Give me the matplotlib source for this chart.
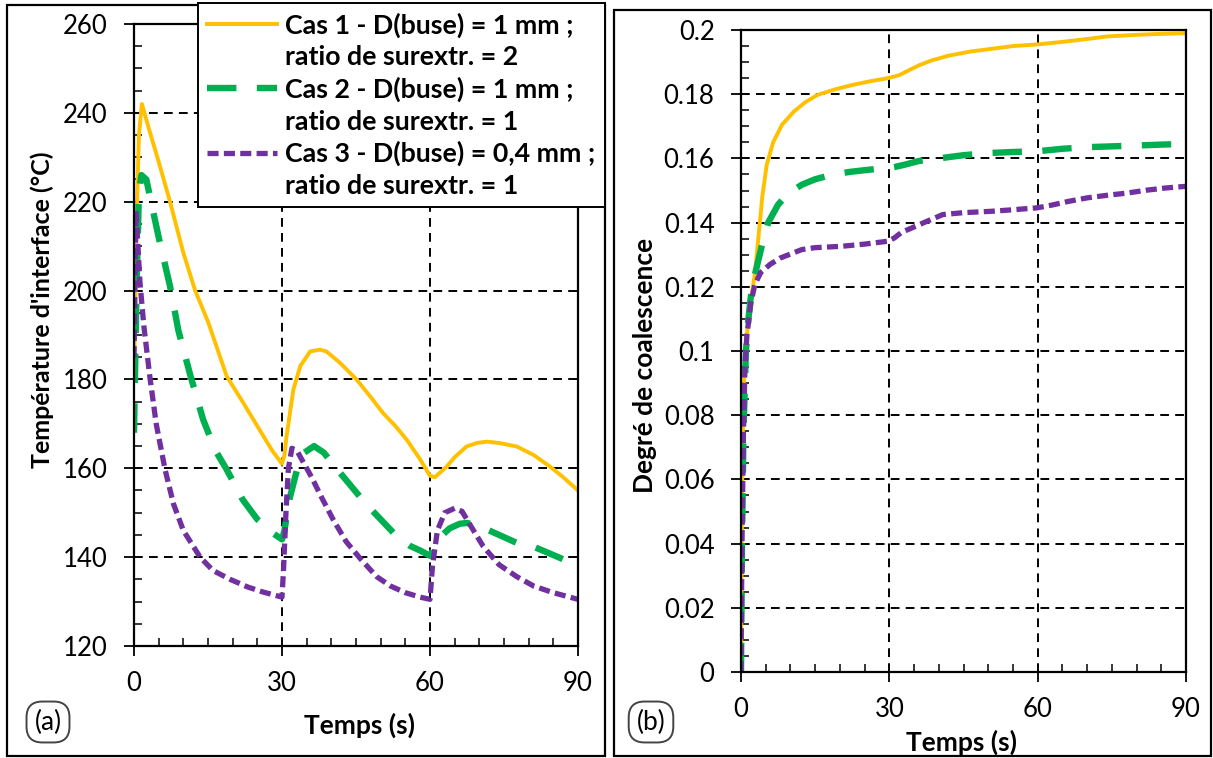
import matplotlib
matplotlib.use("Agg")
import matplotlib.pyplot as plt
from matplotlib.lines import Line2D
from matplotlib.patches import Rectangle
from matplotlib.ticker import MultipleLocator

plt.rcParams['font.family'] = ['Lato', 'DejaVu Sans']

# --- (a) interface temperature vs time ---
t1_a = [0, 0.5, 1, 1.6, 3, 5, 7.3, 10, 12.4, 15, 18.8, 22, 25, 28, 30, 30.5, 30.9, 32.3, 33.7, 35.7,
        37.7, 39, 41.8, 45.1, 48, 50.5, 53, 55.3, 58, 60, 61, 63.4, 65, 67.4, 69.5, 71.5, 74, 77.6,
        81, 84.3, 87, 90]
T1_a = [180, 215, 235, 242, 236.5, 229, 220, 208.5, 200, 193, 180.7, 175, 169.5, 164, 161, 163, 167,
        177.7, 183, 186.3, 186.7, 186.3, 183.7, 180, 176, 172.4, 169.5, 166.4, 162, 158.3, 158, 160.4,
        162.5, 164.9, 165.7, 166, 165.7, 164.9, 163, 160.4, 158, 155]

t2_a = [0, 0.5, 1, 1.5, 2.5, 5, 7.3, 9, 11.4, 14, 16.5, 18.8, 22, 25, 28, 30, 30.5, 31.5, 33, 34.5,
        36.5, 38.5, 41, 44, 47, 50, 53, 56, 58, 60, 60.8, 62, 64, 66, 67.5, 70, 74, 78, 80.9, 86, 90]
T2_a = [168, 200, 222, 226, 225, 212, 201, 191, 181, 171, 164, 159.7, 153, 148.5, 145.5, 144, 146,
        153, 159.5, 163.5, 165, 163.5, 160, 156, 152, 148.5, 145, 142.5, 141.5, 140.3, 142, 144.5,
        146.5, 147.5, 147.7, 147, 145, 143, 142.4, 140, 138]

t3_a = [0, 0.4, 1.2, 2, 3.2, 4.5, 6.3, 8, 10, 13.4, 16, 19.5, 23, 26, 29, 30, 30.3, 30.8, 31.3, 32,
        33, 34, 36, 38, 40.4, 43, 46, 49.2, 52, 55, 58, 60, 60.5, 61.5, 63, 65, 66.5, 68, 70.8, 74,
        77.6, 81, 85, 90]
T3_a = [185, 218, 202, 192, 180.7, 170, 159.7, 152, 146, 140, 137, 135, 133.3, 132.2, 131.3, 131,
        137, 150, 160, 164.5, 164, 162, 158, 153.5, 148.4, 143.5, 139.5, 135.6, 133.5, 132, 131,
        130.5, 138, 146, 150, 151, 150.3, 147.5, 142.4, 138.3, 135.6, 133.5, 132, 130.5]

# --- (b) degree of coalescence vs time ---
t1_b = [0, 0.1, 0.3, 0.6, 1, 1.5, 2, 2.8, 3.5, 4.3, 5.2, 6.5, 8.3, 10.7, 13, 15.5, 19, 22.6, 26,
        29.7, 31, 32.1, 34, 36, 38.5, 42, 46.4, 50, 55, 59.9, 65, 70, 74.1, 80, 85, 90]
v1_b = [0, 0.03, 0.07, 0.09, 0.102, 0.11, 0.116, 0.124, 0.135, 0.148, 0.158, 0.165, 0.1705, 0.1746,
        0.1775, 0.1798, 0.1815, 0.1829, 0.184, 0.185, 0.1855, 0.186, 0.1875, 0.189, 0.1905, 0.192,
        0.1933, 0.194, 0.195, 0.1955, 0.1963, 0.1972, 0.198, 0.1985, 0.1988, 0.199]

t2_b = [0, 0.2, 0.5, 1, 1.5, 2.2, 3, 4.4, 5.5, 7.5, 9.5, 12.3, 15, 18.6, 22, 26, 29.7, 31, 33, 36,
        40, 45, 50.4, 55, 59.8, 65, 70, 74, 80, 85, 90]
v2_b = [0, 0.04, 0.075, 0.1, 0.11, 0.12, 0.125, 0.134, 0.14, 0.1456, 0.149, 0.1518, 0.1535, 0.155,
        0.1558, 0.1565, 0.157, 0.1573, 0.158, 0.1592, 0.16, 0.161, 0.1617, 0.162, 0.1622, 0.163,
        0.1635, 0.1637, 0.164, 0.1643, 0.1645]

t3_b = [0, 0.2, 0.5, 0.8, 1.2, 2, 2.8, 4, 5.9, 8, 10, 12.3, 15, 20.2, 25, 29.7, 31, 32.5, 34.5, 37,
        40.8, 45, 50.4, 55, 59.9, 63, 66.2, 70, 74, 78.1, 82, 86, 90]
v3_b = [0, 0.04, 0.075, 0.095, 0.105, 0.115, 0.1207, 0.1245, 0.127, 0.129, 0.1302, 0.1316, 0.1322,
        0.1326, 0.1333, 0.1342, 0.1352, 0.137, 0.1383, 0.14, 0.1425, 0.1431, 0.1435, 0.144, 0.1446,
        0.1455, 0.1466, 0.1477, 0.1485, 0.1492, 0.1501, 0.1508, 0.1513]

labels = ["Cas 1 - D(buse) = 1 mm ;", "ratio de surextr. = 2",
          "Cas 2 - D(buse) = 1 mm ;", "ratio de surextr. = 1",
          "Cas 3 - D(buse) = 0,4 mm ;", "ratio de surextr. = 1"]

orange = "#FFC000"
green = "#00B050"
purple = "#7030A0"

# line styles
st1 = dict(color=orange, lw=2.8)
st2 = dict(color=green, lw=4.6, linestyle=(0, (4.6, 3.2)))
st3 = dict(color=purple, lw=3.8, linestyle=(0, (2.1, 1.0)))

W, H = 1213, 758
fig = plt.figure(figsize=(W / 100, H / 100), dpi=100)


def fbox(x0, y0, x1, y1):
    # pixel box (top-left origin) -> figure fraction rect
    return [x0 / W, 1 - y1 / H, (x1 - x0) / W, (y1 - y0) / H]


# panel frames
fig.patches.append(Rectangle((7 / W, 1 - 756 / H), 598 / W, 751 / H, transform=fig.transFigure,
                             fill=False, ec="black", lw=1.6))
fig.patches.append(Rectangle((614 / W, 1 - 756 / H), 597 / W, 746 / H, transform=fig.transFigure,
                             fill=False, ec="black", lw=1.6))

ax1 = fig.add_axes(fbox(134, 24, 578, 646))
ax2 = fig.add_axes(fbox(741, 30, 1186, 672))

fs_tick = 18.5


def style(ax):
    for s in ax.spines.values():
        s.set_linewidth(1.6)
    ax.tick_params(which="major", direction="out", length=7, width=1.3, labelsize=fs_tick)
    ax.tick_params(which="minor", direction="in", length=6, width=1.1)
    ax.tick_params(axis="y", which="major", pad=12)
    ax.tick_params(axis="x", which="major", pad=11)
    ax.grid(True, which="major", color="black", linestyle=(0, (4.5, 3.2)), linewidth=1.4)
    ax.set_axisbelow(True)


ax1.plot(t1_a, T1_a, **st1)
ax1.plot(t2_a, T2_a, **st2)
ax1.plot(t3_a, T3_a, **st3)
ax1.set_xlim(0, 90)
ax1.set_ylim(120, 260)
ax1.xaxis.set_major_locator(MultipleLocator(30))
ax1.xaxis.set_minor_locator(MultipleLocator(5))
ax1.yaxis.set_major_locator(MultipleLocator(20))
ax1.yaxis.set_minor_locator(MultipleLocator(5))
style(ax1)

ax2.plot(t1_b, v1_b, **st1)
ax2.plot(t2_b, v2_b, **st2)
ax2.plot(t3_b, v3_b, **st3)
ax2.set_xlim(0, 90)
ax2.set_ylim(0, 0.2)
ax2.xaxis.set_major_locator(MultipleLocator(30))
ax2.xaxis.set_minor_locator(MultipleLocator(5))
ax2.yaxis.set_minor_locator(MultipleLocator(0.005))
ax2.set_yticks([0, 0.02, 0.04, 0.06, 0.08, 0.1, 0.12, 0.14, 0.16, 0.18, 0.2])
ax2.set_yticklabels(["0", "0.02", "0.04", "0.06", "0.08", "0.1", "0.12", "0.14", "0.16", "0.18", "0.2"])
style(ax2)

# axis titles
fig.text(42 / W, 1 - 310 / H, "Température d'interface (°C)", rotation=90, ha="center", va="center",
         fontsize=18, fontweight="bold")
fig.text(360 / W, 1 - 725 / H, "Temps (s)", ha="center", va="center", fontsize=19, fontweight="bold")
fig.text(645 / W, 1 - 365 / H, "Degré de coalescence", rotation=90, ha="center", va="center",
         fontsize=19, fontweight="bold")
fig.text(962 / W, 1 - 742 / H, "Temps (s)", ha="center", va="center", fontsize=19, fontweight="bold")

box = dict(boxstyle="round,pad=0.3,rounding_size=0.6", fc="white", ec="#444444", lw=1.4)
fig.text(48 / W, 1 - 722 / H, "(a)", ha="center", va="center", fontsize=19, bbox=box)
fig.text(651 / W, 1 - 722 / H, "(b)", ha="center", va="center", fontsize=19, bbox=box)

# legend, one handle per case, second text line without handle
blank = Line2D([], [], color="none")
handles = [Line2D([], [], **st1), blank, Line2D([], [], **st2), blank, Line2D([], [], **st3), blank]
leg = fig.legend(handles, labels, loc="upper left", bbox_to_anchor=(198 / W, 1 - 3 / H),
                 bbox_transform=fig.transFigure, frameon=True, fancybox=False, framealpha=1,
                 edgecolor="black", prop={"weight": "bold", "size": 19.3}, handlelength=2.6,
                 handletextpad=0.3, labelspacing=0.28, borderpad=0.35, borderaxespad=0)
leg.get_frame().set_linewidth(1.4)

fig.savefig("out.png", dpi=100)
